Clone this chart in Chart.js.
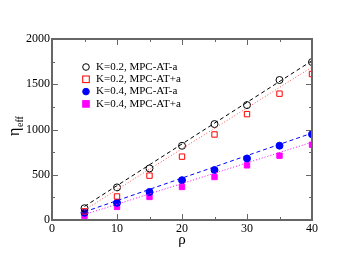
<!DOCTYPE html>
<html lang="en">
<head>
  <meta charset="UTF-8">
  <title>eta_eff vs rho</title>
  <script src="https://cdn.jsdelivr.net/npm/chart.js"></script>
  <style>
    body { margin: 0; background: #fff; }
    #wrap { width: 339px; height: 260px; }
  </style>
</head>
<body>
  <div id="wrap"><canvas id="effChart" width="339" height="260"></canvas></div>
  <script>
    // data
    const rho = [5, 10, 15, 20, 25, 30, 35, 40];
    const k02Minus = [130, 360, 570, 820, 1060, 1270, 1547, 1745];
    const k02Plus = [95, 260, 490, 700, 945, 1170, 1396, 1613];
    const k04Minus = [80, 190, 310, 440, 552, 680, 821, 947];
    const k04Plus = [45, 145, 255, 365, 475, 604, 711, 832];
    // fitted lines (end points)
    const fitX = [5, 40];
    const fitK02Minus = [150, 1760];
    const fitK02Plus = [110, 1690];
    const fitK04Minus = [90, 960];
    const fitK04Plus = [60, 860];
    const legendLabels = ['K=0.2, MPC-AT-a', 'K=0.2, MPC-AT+a', 'K=0.4, MPC-AT-a', 'K=0.4, MPC-AT+a'];

    const pts = (xs, ys) => xs.map((x, i) => ({ x: x, y: ys[i] }));
    const serif = '"Liberation Serif", "DejaVu Serif", serif';

    const markerSets = [
      { data: pts(rho, k02Minus), pointStyle: 'circle', pointRadius: 3.5, pointBorderColor: '#000', pointBackgroundColor: 'rgba(0,0,0,0)' },
      { data: pts(rho, k02Plus), pointStyle: 'rect', pointRadius: 3.8, pointBorderColor: '#ff0000', pointBackgroundColor: 'rgba(0,0,0,0)' },
      { data: pts(rho, k04Minus), pointStyle: 'circle', pointRadius: 3.5, pointBorderColor: '#0000ff', pointBackgroundColor: '#0000ff' },
      { data: pts(rho, k04Plus), pointStyle: 'rect', pointRadius: 3.8, pointBorderColor: '#ff00ff', pointBackgroundColor: '#ff00ff' }
    ].map((d, i) => Object.assign({ label: legendLabels[i], showLine: false, pointBorderWidth: 1 }, d));

    const fitSets = [
      { data: pts(fitX, fitK02Minus), borderColor: '#000', borderDash: [4, 3] },
      { data: pts(fitX, fitK02Plus), borderColor: '#ff5050', borderDash: [1, 2] },
      { data: pts(fitX, fitK04Minus), borderColor: '#0000ff', borderDash: [4, 3] },
      { data: pts(fitX, fitK04Plus), borderColor: '#ff00ff', borderDash: [1, 2] }
    ].map(d => Object.assign({ label: 'fit', showLine: true, borderWidth: 1, pointRadius: 0, fill: false }, d));

    // frame, inward ticks, axis titles and legend
    const decor = {
      id: 'decor',
      afterDraw(chart) {
        const c = chart.ctx, a = chart.chartArea;
        const xs = chart.scales.x, ys = chart.scales.y;
        c.save();
        c.strokeStyle = '#666';
        c.lineWidth = 1;
        for (let v = 0; v <= 40; v += 5) {
          const px = Math.round(xs.getPixelForValue(v)) + 0.5;
          const len = v % 10 === 0 ? 6 : 3;
          c.beginPath();
          c.moveTo(px, a.bottom); c.lineTo(px, a.bottom - len);
          c.moveTo(px, a.top); c.lineTo(px, a.top + len);
          c.stroke();
        }
        for (let v = 0; v <= 2000; v += 250) {
          const py = Math.round(ys.getPixelForValue(v)) + 0.5;
          const len = v % 500 === 0 ? 6 : 3;
          c.beginPath();
          c.moveTo(a.left, py); c.lineTo(a.left + len, py);
          c.moveTo(a.right, py); c.lineTo(a.right - len, py);
          c.stroke();
        }
        c.lineWidth = 2;
        c.strokeRect(a.left, a.top, a.right - a.left, a.bottom - a.top);

        // x title
        c.fillStyle = '#000';
        c.font = '15px ' + serif;
        c.textAlign = 'center';
        c.textBaseline = 'middle';
        c.fillText('ρ', (a.left + a.right) / 2, 240);

        // y title
        c.translate(15, 136);
        c.rotate(-Math.PI / 2);
        c.textAlign = 'left';
        c.font = '16px ' + serif;
        c.fillText('η', 0, 0);
        c.font = '10px ' + serif;
        c.fillText('eff', 9, 5);
        c.restore();

        // legend
        c.save();
        c.font = '11px ' + serif;
        c.textBaseline = 'middle';
        c.fillStyle = '#000';
        markerSets.forEach((d, i) => {
          const y = 67 + i * 12.3, x = 86;
          c.strokeStyle = d.pointBorderColor;
          c.fillStyle = d.pointBackgroundColor;
          c.lineWidth = 1;
          if (d.pointStyle === 'circle') {
            c.beginPath(); c.arc(x, y, 3.3, 0, Math.PI * 2);
            c.fill(); c.stroke();
          } else {
            c.fillRect(x - 3.3, y - 3.3, 6.6, 6.6);
            c.strokeRect(x - 3.3, y - 3.3, 6.6, 6.6);
          }
          c.fillStyle = '#000';
          c.fillText(d.label, 96, y);
        });
        c.restore();
      }
    };

    new Chart(document.getElementById('effChart').getContext('2d'), {
      type: 'scatter',
      data: { datasets: fitSets.concat(markerSets) },
      options: {
        responsive: false,
        animation: false,
        layout: { padding: { left: 0, top: 39, right: 27, bottom: 0 } },
        plugins: { legend: { display: false }, tooltip: { enabled: false } },
        scales: {
          x: {
            type: 'linear', min: 0, max: 40,
            afterFit: s => { s.height = 40; },
            grid: { display: false, drawTicks: false }, border: { display: false },
            ticks: {
              stepSize: 10, padding: 2, color: '#000',
              font: { family: serif, size: 12 },
              maxRotation: 0,
              callback: v => String(v)
            }
          },
          y: {
            type: 'linear', min: 0, max: 2000,
            afterFit: s => { s.width = 52; },
            grid: { display: false, drawTicks: false }, border: { display: false },
            ticks: {
              stepSize: 500, padding: 2, color: '#000',
              font: { family: serif, size: 12 },
              callback: v => String(v)
            }
          }
        }
      },
      plugins: [decor]
    });
  </script>
</body>
</html>
